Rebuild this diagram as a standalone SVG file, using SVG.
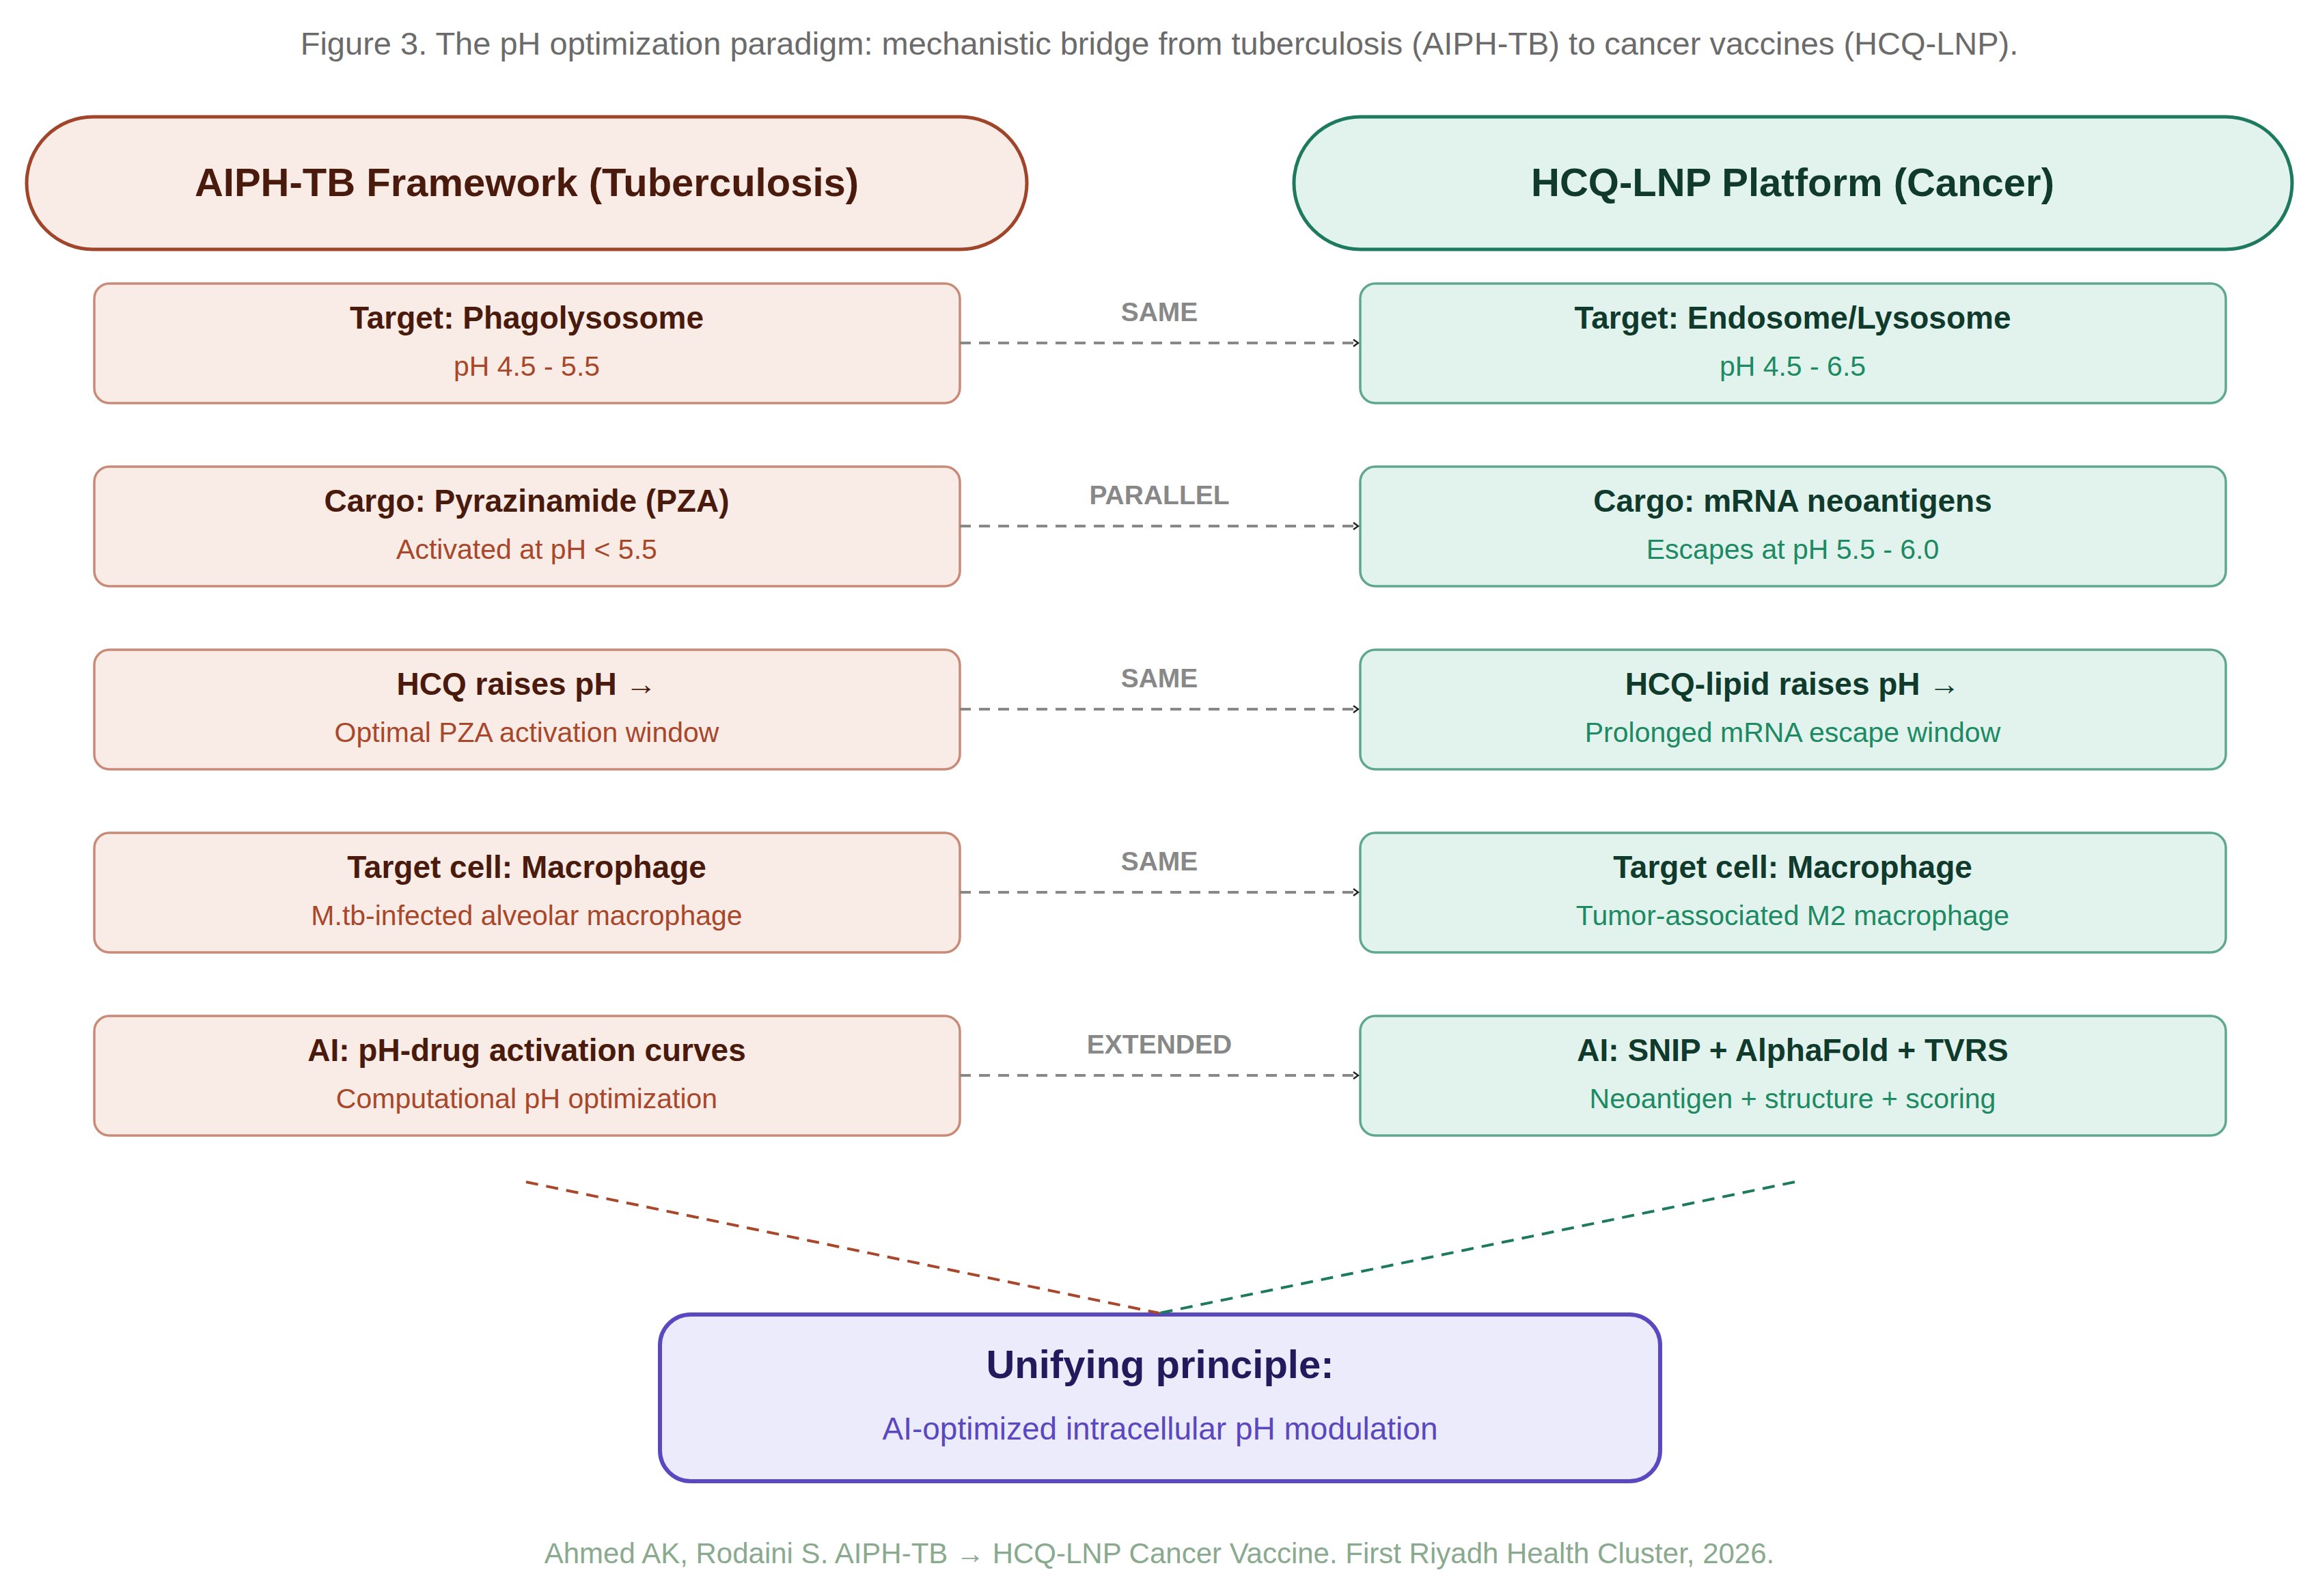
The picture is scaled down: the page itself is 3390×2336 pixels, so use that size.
<svg xmlns="http://www.w3.org/2000/svg" width="3390" height="2336" viewBox="0 0 3390 2336">
<style>
text{font-family:"Liberation Sans",Arial,sans-serif;text-anchor:middle}
.cap{font-size:47px;fill:#6b6b6b}
.hl{fill:#f9ece7;stroke:#a0442a;stroke-width:5}
.hr{fill:#e1f3ec;stroke:#1d7a5e;stroke-width:5}
.bl{fill:#f9ece7;stroke:#c98b78;stroke-width:3.5}
.br{fill:#e1f3ec;stroke:#5fa88f;stroke-width:3.5}
.ht{font-size:58px;font-weight:bold}
.t{font-size:46px;font-weight:bold}
.s{font-size:41px}
.tl{fill:#4a1a0c}.sl{fill:#a8472a}
.tr{fill:#0f3a2c}.sr{fill:#1d8a64}
.lab{font-size:39px;font-weight:bold;fill:#888}
.con{stroke:#888;stroke-width:4;stroke-dasharray:16 12;fill:none}
</style>
<defs>
<marker id="ah" markerWidth="10" markerHeight="12" refX="8" refY="6" orient="auto" markerUnits="userSpaceOnUse">
<path d="M1,1 L8,6 L1,11" fill="none" stroke="#222" stroke-width="2.5"/>
</marker>
</defs>
<rect width="3390" height="2336" fill="#fff"/>
<text class="cap" x="1697" y="80">Figure 3. The pH optimization paradigm: mechanistic bridge from tuberculosis (AIPH-TB) to cancer vaccines (HCQ-LNP).</text>
<g id="header-left"><rect class="hl" x="39" y="171" width="1464" height="194" rx="97"/><text class="ht tl" x="771" y="287">AIPH-TB Framework (Tuberculosis)</text></g>
<g id="header-right"><rect class="hr" x="1894" y="171" width="1461" height="194" rx="97"/><text class="ht tr" x="2624" y="287">HCQ-LNP Platform (Cancer)</text></g>

<g id="l1"><rect class="bl" x="138" y="415" width="1267" height="175" rx="22"/><text class="t tl" x="771" y="481">Target: Phagolysosome</text><text class="s sl" x="771" y="550">pH 4.5 - 5.5</text></g>
<g id="l2"><rect class="bl" x="138" y="683" width="1267" height="175" rx="22"/><text class="t tl" x="771" y="749">Cargo: Pyrazinamide (PZA)</text><text class="s sl" x="771" y="818">Activated at pH &lt; 5.5</text></g>
<g id="l3"><rect class="bl" x="138" y="951" width="1267" height="175" rx="22"/><text class="t tl" x="771" y="1017">HCQ raises pH →</text><text class="s sl" x="771" y="1086">Optimal PZA activation window</text></g>
<g id="l4"><rect class="bl" x="138" y="1219" width="1267" height="175" rx="22"/><text class="t tl" x="771" y="1285">Target cell: Macrophage</text><text class="s sl" x="771" y="1354">M.tb-infected alveolar macrophage</text></g>
<g id="l5"><rect class="bl" x="138" y="1487" width="1267" height="175" rx="22"/><text class="t tl" x="771" y="1553">AI: pH-drug activation curves</text><text class="s sl" x="771" y="1622">Computational pH optimization</text></g>

<g id="r1"><rect class="br" x="1991" y="415" width="1267" height="175" rx="22"/><text class="t tr" x="2624" y="481">Target: Endosome/Lysosome</text><text class="s sr" x="2624" y="550">pH 4.5 - 6.5</text></g>
<g id="r2"><rect class="br" x="1991" y="683" width="1267" height="175" rx="22"/><text class="t tr" x="2624" y="749">Cargo: mRNA neoantigens</text><text class="s sr" x="2624" y="818">Escapes at pH 5.5 - 6.0</text></g>
<g id="r3"><rect class="br" x="1991" y="951" width="1267" height="175" rx="22"/><text class="t tr" x="2624" y="1017">HCQ-lipid raises pH →</text><text class="s sr" x="2624" y="1086">Prolonged mRNA escape window</text></g>
<g id="r4"><rect class="br" x="1991" y="1219" width="1267" height="175" rx="22"/><text class="t tr" x="2624" y="1285">Target cell: Macrophage</text><text class="s sr" x="2624" y="1354">Tumor-associated M2 macrophage</text></g>
<g id="r5"><rect class="br" x="1991" y="1487" width="1267" height="175" rx="22"/><text class="t tr" x="2624" y="1553">AI: SNIP + AlphaFold + TVRS</text><text class="s sr" x="2624" y="1622">Neoantigen + structure + scoring</text></g>

<g id="unify"><rect x="966" y="1924" width="1464" height="244" rx="45" fill="#ecebfb" stroke="#5a48c0" stroke-width="6"/><text x="1698" y="2017" font-size="58" font-weight="bold" fill="#231a5e">Unifying principle:</text><text x="1698" y="2107" font-size="46" fill="#5a48c0">AI-optimized intracellular pH modulation</text></g>

<g id="connectors">
<path class="con" d="M1405,502 H1988" marker-end="url(#ah)"/>
<path class="con" d="M1405,770 H1988" marker-end="url(#ah)"/>
<path class="con" d="M1405,1038 H1988" marker-end="url(#ah)"/>
<path class="con" d="M1405,1306 H1988" marker-end="url(#ah)"/>
<path class="con" d="M1405,1574 H1988" marker-end="url(#ah)"/>
<path d="M770,1730 L1697,1922" stroke="#a8472a" stroke-width="4" stroke-dasharray="18 12" fill="none"/>
<path d="M2627,1730 L1697,1922" stroke="#1d7a5e" stroke-width="4" stroke-dasharray="18 12" fill="none"/>
<text class="lab" x="1697" y="470">SAME</text>
<text class="lab" x="1697" y="738">PARALLEL</text>
<text class="lab" x="1697" y="1006">SAME</text>
<text class="lab" x="1697" y="1274">SAME</text>
<text class="lab" x="1697" y="1542">EXTENDED</text>
</g>
<text x="1697" y="2288" font-size="42" fill="#8aaa90">Ahmed AK, Rodaini S. AIPH-TB → HCQ-LNP Cancer Vaccine. First Riyadh Health Cluster, 2026.</text>
</svg>
